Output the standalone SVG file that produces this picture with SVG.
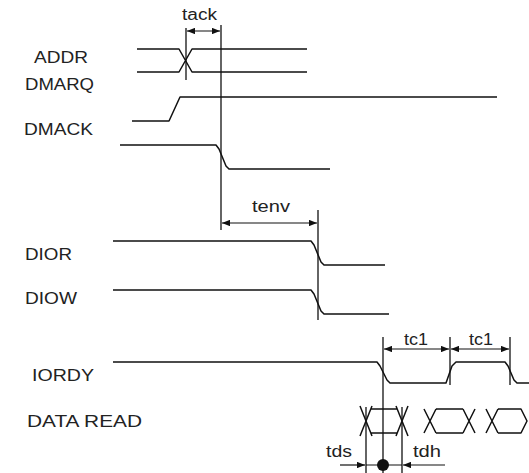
<svg xmlns="http://www.w3.org/2000/svg" width="529" height="473" viewBox="0 0 529 473">
<style>
.sig{fill:none;stroke:#111;stroke-width:1.5;stroke-linejoin:round}
.ref{fill:none;stroke:#111;stroke-width:1.3}
.dim{fill:none;stroke:#111;stroke-width:1.2}
.lbl{font-family:"Liberation Sans",Arial,sans-serif;font-size:17px;fill:#222}
.t{font-family:"Liberation Sans",Arial,sans-serif;font-size:16px;fill:#222}
</style>
<defs>
<marker id="ah" viewBox="0 0 10 8" refX="10" refY="4" markerWidth="8" markerHeight="6.4" markerUnits="userSpaceOnUse" orient="auto-start-reverse">
<path d="M0,0 L10,4 L0,8 Z" fill="#111"/>
</marker>
</defs>
<rect width="529" height="473" fill="#fff"/>

<g id="labels">
<text class="lbl" x="34" y="63" textLength="54" lengthAdjust="spacingAndGlyphs">ADDR</text>
<text class="lbl" x="25" y="90" textLength="69" lengthAdjust="spacingAndGlyphs">DMARQ</text>
<text class="lbl" x="24" y="135" textLength="69" lengthAdjust="spacingAndGlyphs">DMACK</text>
<text class="lbl" x="25" y="260" textLength="47" lengthAdjust="spacingAndGlyphs">DIOR</text>
<text class="lbl" x="25" y="304" textLength="52" lengthAdjust="spacingAndGlyphs">DIOW</text>
<text class="lbl" x="32" y="381" textLength="62" lengthAdjust="spacingAndGlyphs">IORDY</text>
<text class="lbl" x="27" y="427" textLength="115" lengthAdjust="spacingAndGlyphs">DATA READ</text>
</g>

<g id="addr">
<path class="sig" d="M137,49 H179 L192,72 H307 M137,72 H179 L192,49 H307"/>
</g>
<g id="dmarq">
<path class="sig" d="M132,121 H169 L180,97 H497"/>
</g>
<g id="dmack">
<path class="sig" d="M120,145 H216 L219,149 L226,166 L229,169 H330"/>
</g>
<g id="dior">
<path class="sig" d="M113,241 H311 L314,245 L321,262 L324,265 H385"/>
</g>
<g id="diow">
<path class="sig" d="M113,290 H311 L314,294 L321,311 L324,314 H389"/>
</g>
<g id="iordy">
<path class="sig" d="M113,362 H377 L380,366 L387,380 L390,383 H446 L452,366 L456,362 H505 L508,366 L514,380 L517,383 H529"/>
</g>
<g id="dataread">
<path class="sig" d="M360,406 L372,436 M360,436 L372,406 M371,409 H397 M371,433 H397 M396,406 L408,436 M396,436 L408,406"/>
<path class="sig" d="M424,409 L436,433 M424,433 L436,409 M436,409 H463 M436,433 H463 M463,409 L475,433 M463,433 L475,409"/>
<path class="sig" d="M486,409 L498,433 M486,433 L498,409 M498,409 H521 L527,421 L521,433 H498"/>
</g>

<g id="connectors">
<line class="ref" x1="186" y1="28" x2="186" y2="80"/>
<line class="ref" x1="221" y1="25" x2="221" y2="230"/>
<line class="ref" x1="318" y1="210" x2="318" y2="320"/>
<line class="ref" x1="383" y1="337" x2="383" y2="473"/>
<line class="ref" x1="450" y1="337" x2="450" y2="385"/>
<line class="ref" x1="510" y1="337" x2="510" y2="385"/>
<line class="ref" x1="366" y1="407" x2="366" y2="473"/>
<line class="ref" x1="402" y1="407" x2="402" y2="473"/>
<line class="dim" x1="187" y1="31" x2="220" y2="31" marker-start="url(#ah)" marker-end="url(#ah)"/>
<line class="dim" x1="222" y1="223" x2="317" y2="223" marker-start="url(#ah)" marker-end="url(#ah)"/>
<line class="dim" x1="384" y1="349" x2="449" y2="349" marker-start="url(#ah)" marker-end="url(#ah)"/>
<line class="dim" x1="451" y1="349" x2="509" y2="349" marker-start="url(#ah)" marker-end="url(#ah)"/>
<line class="dim" x1="340" y1="465" x2="365" y2="465" marker-end="url(#ah)"/>
<line class="dim" x1="366" y1="465" x2="402" y2="465"/>
<line class="dim" x1="445" y1="465" x2="403" y2="465" marker-end="url(#ah)"/>
<circle cx="383" cy="465" r="6" fill="#111"/>
</g>

<g id="timing-labels">
<text class="t" x="182" y="20" textLength="35" lengthAdjust="spacingAndGlyphs">tack</text>
<text class="t" x="252" y="212" textLength="38" lengthAdjust="spacingAndGlyphs">tenv</text>
<text class="t" x="404" y="345" textLength="24" lengthAdjust="spacingAndGlyphs">tc1</text>
<text class="t" x="469" y="345" textLength="24" lengthAdjust="spacingAndGlyphs">tc1</text>
<text class="t" x="326" y="457" textLength="26" lengthAdjust="spacingAndGlyphs">tds</text>
<text class="t" x="413" y="457" textLength="28" lengthAdjust="spacingAndGlyphs">tdh</text>
</g>
</svg>
